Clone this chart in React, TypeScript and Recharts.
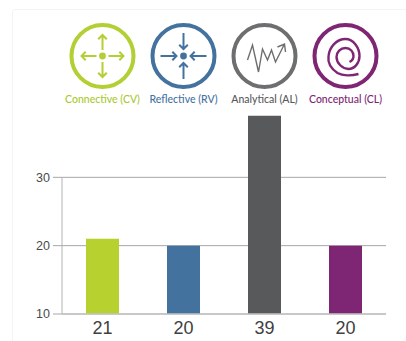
import { Bar, BarChart, CartesianGrid, Cell, ReferenceArea, XAxis, YAxis } from "recharts";

const categories = ["Connective (CV)", "Reflective (RV)", "Analytical (AL)", "Conceptual (CL)"];
const scores = [21, 20, 39, 20];
const barColors = ["#b7d12f", "#44729f", "#58595b", "#7e2673"];
const iconColors = ["#b2cf33", "#44729f", "#6d6e70", "#7e2673"];
const labelColors = ["#a9c92f", "#44729f", "#58595b", "#7e2673"];
const yTicks = [10, 20, 30];

const rows = categories.map((name, i) => ({ name, score: scores[i] }));

const labelFont = "Lato, 'Open Sans', sans-serif";
const tickFont = "'Liberation Sans', Arial, sans-serif";

function Arrow({ x1, y1, x2, y2, color }: { x1: number; y1: number; x2: number; y2: number; color: string }) {
  const angle = Math.atan2(y2 - y1, x2 - x1);
  const head = 6;
  const spread = 0.8;
  const ax = x2 - head * Math.cos(angle - spread);
  const ay = y2 - head * Math.sin(angle - spread);
  const bx = x2 - head * Math.cos(angle + spread);
  const by = y2 - head * Math.sin(angle + spread);
  return (
    <path
      d={`M${x1} ${y1}L${x2} ${y2}M${ax} ${ay}L${x2} ${y2}L${bx} ${by}`}
      fill="none"
      stroke={color}
      strokeWidth={2}
    />
  );
}

function Ring({ color }: { color: string }) {
  return <circle r={31} fill="none" stroke={color} strokeWidth={4} />;
}

function ConnectiveIcon({ color }: { color: string }) {
  const arms = [
    [0, -6, 0, -21],
    [0, 6, 0, 21],
    [-6, 0, -21, 0],
    [6, 0, 21, 0],
  ];
  return (
    <g>
      <Ring color={color} />
      <circle r={3.4} fill={color} />
      {arms.map((a, i) => (
        <Arrow key={i} x1={a[0]} y1={a[1]} x2={a[2]} y2={a[3]} color={color} />
      ))}
    </g>
  );
}

function ReflectiveIcon({ color }: { color: string }) {
  const arms = [
    [0, -23, 0, -7],
    [0, 23, 0, 7],
    [-23, 0, -7, 0],
    [23, 0, 7, 0],
  ];
  return (
    <g>
      <Ring color={color} />
      <circle r={3.4} fill={color} />
      {arms.map((a, i) => (
        <Arrow key={i} x1={a[0]} y1={a[1]} x2={a[2]} y2={a[3]} color={color} />
      ))}
    </g>
  );
}

function AnalyticalIcon({ color }: { color: string }) {
  return (
    <g>
      <Ring color={color} />
      <path
        d="M-17 4L-12 -11L-6 16L-2 -7L3 4L7 -6L11 6L20 -12M13 -9L20 -12L21 -4"
        fill="none"
        stroke={color}
        strokeWidth={1.4}
      />
    </g>
  );
}

function ConceptualIcon({ color }: { color: string }) {
  return (
    <g>
      <Ring color={color} />
      <path
        d="M13 18C6 20 -3 20 -8 17C-14 13 -18 7 -17 0C-16 -9 -9 -17 0 -17C8 -17 14 -8 14 0C14 7 9 13 3 13C-3 13 -9 7 -9 1C-9 -4 -5 -8 0 -8C5 -8 8 -4 8 0C8 3 6 5 4 6"
        fill="none"
        stroke={color}
        strokeWidth={2.4}
      />
    </g>
  );
}

const iconCentres = [102.5, 183.5, 264.5, 345.5];

function IconRow() {
  const icons = [ConnectiveIcon, ReflectiveIcon, AnalyticalIcon, ConceptualIcon];
  return (
    <svg width={406} height={110} style={{ position: "absolute", left: 0, top: 0 }}>
      {icons.map((Icon, i) => (
        <g key={categories[i]} transform={`translate(${iconCentres[i]} 56)`}>
          <Icon color={iconColors[i]} />
        </g>
      ))}
      {categories.map((name, i) => (
        <text
          key={name}
          x={iconCentres[i]}
          y={103}
          textAnchor="middle"
          fontFamily={labelFont}
          fontSize={10.5}
          fontWeight={500}
          fill={labelColors[i]}
        >
          {name}
        </text>
      ))}
    </svg>
  );
}

// left rule only spans the labelled part of the value axis
function AxisRule({ x, y, height }: { x?: number; y?: number; height?: number }) {
  return <line x1={x} x2={x} y1={y} y2={(y ?? 0) + (height ?? 0)} stroke="#b4b4b6" strokeWidth={1} />;
}

export default function App() {
  return (
    <div style={{ position: "absolute", left: 0, top: 0, width: 406, height: 341, background: "#fff", overflow: "hidden" }}>
      <div
        style={{
          position: "absolute",
          left: 12,
          top: 9,
          width: 400,
          height: 340,
          border: "1px solid #f4f4f4",
          borderRadius: 3,
        }}
      />
      <IconRow />
      <BarChart
        width={406}
        height={341}
        data={rows}
        margin={{ top: 109, right: 20, bottom: 0, left: 0 }}
        barSize={33}
        style={{ position: "absolute", left: 0, top: 0 }}
      >
        <CartesianGrid stroke="#a7a7a9" strokeWidth={1} vertical={false} horizontalValues={yTicks} />
        <XAxis
          dataKey="name"
          tickLine={false}
          axisLine={{ stroke: "#c4c4c6", strokeWidth: 1.5 }}
          tickFormatter={(_: string, i: number) => String(scores[i])}
          tick={{ fontFamily: tickFont, fontSize: 18, fill: "#3f4042" }}
          tickMargin={1}
          height={27}
        />
        <YAxis
          width={62}
          domain={[10, 40]}
          ticks={yTicks}
          allowDataOverflow
          tickLine={{ stroke: "#a7a7a9" }}
          tickSize={9}
          axisLine={false}
          tick={{ fontFamily: tickFont, fontSize: 12.5, fill: "#4a4a4c" }}
          tickMargin={3}
        />
        <ReferenceArea y1={10} y2={30} shape={AxisRule} />
        <Bar dataKey="score" isAnimationActive={false}>
          {rows.map((row, i) => (
            <Cell key={row.name} fill={barColors[i]} />
          ))}
        </Bar>
      </BarChart>
    </div>
  );
}
